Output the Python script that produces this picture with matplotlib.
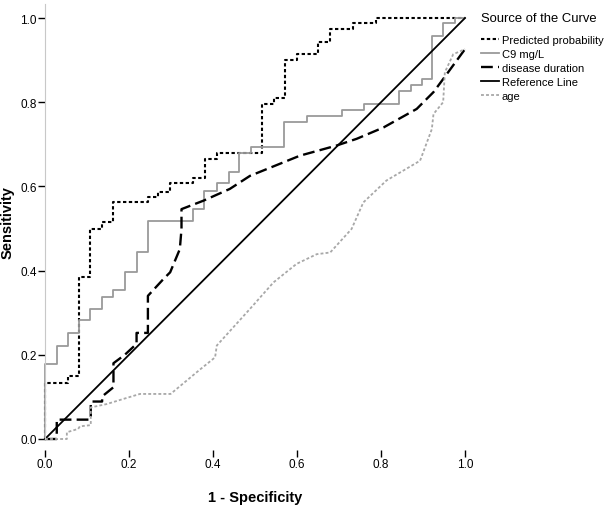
import matplotlib
matplotlib.use("Agg")
import matplotlib.pyplot as plt

plt.rcParams['font.family'] = ['Liberation Sans', 'DejaVu Sans']

# ---- data (ROC curve vertices) ----
pred_x = [0, 0, 0.055, 0.055, 0.082, 0.082, 0.107, 0.107, 0.135, 0.135, 0.163, 0.163,
          0.245, 0.245, 0.270, 0.270, 0.298, 0.298, 0.353, 0.353, 0.380, 0.380,
          0.409, 0.409, 0.516, 0.516, 0.545, 0.545, 0.571, 0.571, 0.599, 0.599,
          0.651, 0.651, 0.679, 0.679, 0.734, 0.734, 0.787, 0.787, 1.0]
pred_y = [0, 0.133, 0.133, 0.150, 0.150, 0.384, 0.384, 0.499, 0.499, 0.516, 0.516, 0.562,
          0.562, 0.575, 0.575, 0.587, 0.587, 0.607, 0.607, 0.620, 0.620, 0.665,
          0.665, 0.679, 0.679, 0.796, 0.796, 0.811, 0.811, 0.900, 0.900, 0.914,
          0.914, 0.942, 0.942, 0.974, 0.974, 0.988, 0.988, 1.0, 1.0]

c9_x = [0, 0, 0.028, 0.028, 0.055, 0.055, 0.082, 0.082, 0.107, 0.107, 0.135, 0.135,
        0.163, 0.163, 0.190, 0.190, 0.218, 0.218, 0.245, 0.245, 0.353, 0.353,
        0.379, 0.379, 0.409, 0.409, 0.437, 0.437, 0.463, 0.463, 0.490, 0.490,
        0.569, 0.569, 0.625, 0.625, 0.706, 0.706, 0.760, 0.760, 0.843, 0.843,
        0.871, 0.871, 0.897, 0.897, 0.922, 0.922, 0.948, 0.948, 0.976, 0.976, 1.0]
c9_y = [0, 0.178, 0.178, 0.222, 0.222, 0.252, 0.252, 0.283, 0.283, 0.309, 0.309, 0.337,
        0.337, 0.354, 0.354, 0.397, 0.397, 0.443, 0.443, 0.519, 0.519, 0.546,
        0.546, 0.590, 0.590, 0.607, 0.607, 0.635, 0.635, 0.679, 0.679, 0.694,
        0.694, 0.752, 0.752, 0.768, 0.768, 0.782, 0.782, 0.796, 0.796, 0.826,
        0.826, 0.841, 0.841, 0.855, 0.855, 0.958, 0.958, 0.988, 0.988, 1.0, 1.0]

dur_x = [0, 0.028, 0.028, 0.109, 0.109, 0.136, 0.136, 0.163, 0.163, 0.190, 0.218,
         0.218, 0.245, 0.245, 0.282, 0.298, 0.321, 0.325, 0.325, 0.377, 0.440,
         0.488, 0.607, 0.694, 0.742, 0.806, 0.885, 0.925, 0.948, 1.0]
dur_y = [0, 0, 0.046, 0.046, 0.089, 0.089, 0.101, 0.123, 0.180, 0.200, 0.226,
         0.252, 0.252, 0.340, 0.380, 0.396, 0.451, 0.499, 0.546, 0.566, 0.594,
         0.625, 0.673, 0.697, 0.713, 0.740, 0.784, 0.824, 0.855, 0.926]

ref_x = [0, 1]
ref_y = [0, 1]

age_x = [0, 0.052, 0.052, 0.079, 0.083, 0.109, 0.109, 0.147, 0.186, 0.226, 0.299,
         0.369, 0.405, 0.409, 0.488, 0.544, 0.599, 0.647, 0.679, 0.730, 0.758,
         0.813, 0.893, 0.921, 0.925, 0.948, 0.952, 0.972, 1.0]
age_y = [0, 0, 0.016, 0.024, 0.030, 0.033, 0.075, 0.083, 0.095, 0.107, 0.107,
         0.165, 0.194, 0.222, 0.309, 0.372, 0.416, 0.439, 0.443, 0.499, 0.562,
         0.614, 0.661, 0.736, 0.772, 0.800, 0.871, 0.914, 0.926]

labels = ["Predicted probability", "C9 mg/L", "disease duration", "Reference Line", "age"]
x_ticks = [0.0, 0.2, 0.4, 0.6, 0.8, 1.0]
y_ticks = [0.0, 0.2, 0.4, 0.6, 0.8, 1.0]

# ---- figure ----
fig = plt.figure(figsize=(6.06, 5.06), dpi=100)
W, H = 606, 506
ax = fig.add_axes([45 / W, 66 / H, 420 / W, 435 / H])
ax.set_xlim(0, 1)
ax.set_ylim(0, 1 + 14 / 421)

series = [
    (pred_x, pred_y, dict(color='black', lw=1.5, ls=(0, (1.6, 1.2)))),
    (c9_x, c9_y, dict(color='#9a9a9a', lw=1.3, ls='-')),
    (dur_x, dur_y, dict(color='black', lw=1.7, ls=(0, (5, 2.2)))),
    (ref_x, ref_y, dict(color='black', lw=1.3, ls='-')),
    (age_x, age_y, dict(color='#a8a8a8', lw=1.3, ls=(0, (1.6, 1.2)))),
]
for (xs, ys, st), lab in zip(series, labels):
    ax.plot(xs, ys, label=lab, clip_on=False, **st)

for s in ['top', 'right']:
    ax.spines[s].set_visible(False)
ax.spines['left'].set_color('#c8c8c8')
ax.spines['left'].set_linewidth(0.8)
ax.spines['bottom'].set_position(('outward', 13))
ax.spines['bottom'].set_visible(False)

ax.set_xticks(x_ticks)
ax.set_xticklabels([f"{v:.1f}" for v in x_ticks])
ax.set_yticks(y_ticks)
ax.set_yticklabels([f"{v:.1f}" for v in y_ticks])
ax.tick_params(axis='x', direction='in', length=5, width=1, color='black',
               labelsize=8.5, pad=1)
ax.tick_params(axis='y', direction='out', length=5, width=1, color='black',
               labelsize=8.5, pad=1)

ax.set_xlabel("1 - Specificity", fontsize=10.5, fontweight='bold', labelpad=14)
ax.set_ylabel("Sensitivity", fontsize=10.5, fontweight='bold', labelpad=4)

leg = fig.legend(loc='upper left', bbox_to_anchor=(481 / W, 1 - 13 / H),
                 frameon=False, fontsize=8.0, title="Source of the Curve",
                 title_fontsize=9.4, handlelength=1.6, handletextpad=0.25,
                 labelspacing=0.36, borderpad=0, borderaxespad=0)
leg._legend_box.align = "left"
leg._legend_box.sep = 8

fig.savefig("out.png", dpi=100)
